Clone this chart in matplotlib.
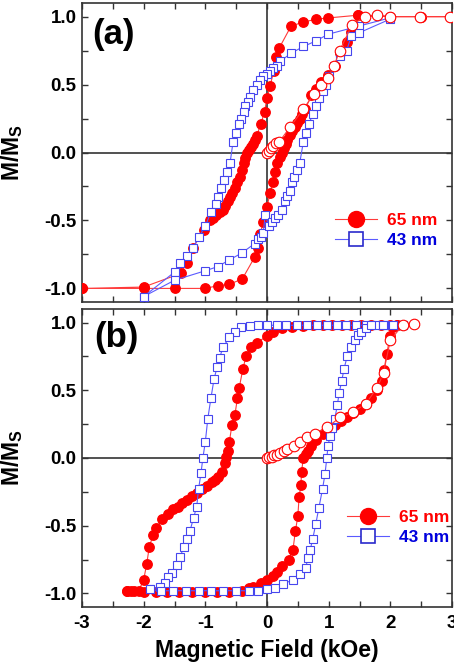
import matplotlib
matplotlib.use('Agg')
import matplotlib.pyplot as plt
from matplotlib.lines import Line2D
from matplotlib.ticker import MultipleLocator

plt.rcParams['font.family'] = ['Liberation Sans', 'DejaVu Sans']
plt.rcParams['font.weight'] = 'bold'
plt.rcParams['axes.unicode_minus'] = False
plt.rcParams['mathtext.fontset'] = 'custom'
plt.rcParams['mathtext.rm'] = 'Liberation Sans:bold'
plt.rcParams['mathtext.bf'] = 'Liberation Sans:bold'

# ---------------- panel (a) ----------------
# 65 nm loop: descending branch then ascending branch
a65_down_x = [3.0, 2.5, 2.0, 1.47, 0.99, 0.79, 0.59, 0.39, 0.20, 0.15, 0.11, 0.05, 0.0, -0.04, -0.10,
              -0.17, -0.20, -0.23, -0.26, -0.29, -0.32, -0.35, -0.38, -0.41, -0.44, -0.48, -0.52, -0.56,
              -0.60, -0.64, -0.68, -0.72, -0.77, -0.82, -0.87, -0.92, -1.02, -1.2, -1.3, -1.4, -2.0, -3.0]
a65_down_y = [1.0, 1.0, 1.0, 1.01, 0.99, 0.98, 0.96, 0.93, 0.77, 0.70, 0.60, 0.49, 0.40, 0.30, 0.21,
              0.12, 0.09, 0.06, 0.04, 0.02, 0.0, -0.04, -0.08, -0.13, -0.18, -0.22, -0.26, -0.30,
              -0.33, -0.36, -0.39, -0.42, -0.44, -0.46, -0.48, -0.50, -0.57, -0.70, -0.81, -0.89, -0.99, -1.0]
a65_up_x = [-3.0, -2.0, -1.5, -1.0, -0.8, -0.61, -0.4, -0.2, -0.14, -0.11, -0.06, 0.0, 0.05, 0.09, 0.13,
            0.17, 0.21, 0.24, 0.27, 0.30, 0.33, 0.37, 0.41, 0.45, 0.49, 0.53, 0.57, 0.62, 0.72, 0.80,
            0.88, 0.99, 1.1, 1.18, 1.29, 1.37, 1.48, 2.0, 2.5, 3.0]
a65_up_y = [-1.0, -1.0, -1.0, -1.0, -0.98, -0.97, -0.93, -0.77, -0.70, -0.60, -0.51, -0.40, -0.30, -0.22, -0.14,
            -0.08, -0.03, 0.0, 0.03, 0.06, 0.09, 0.13, 0.16, 0.19, 0.22, 0.25, 0.28, 0.32, 0.42, 0.47,
            0.52, 0.57, 0.64, 0.73, 0.81, 0.89, 1.01, 1.0, 1.0, 1.0]
# 65 nm initial magnetization curve (open circles)
a65_init_x = [0.0, 0.03, 0.06, 0.10, 0.15, 0.20, 0.38, 0.59, 0.76, 0.88, 0.99, 1.09, 1.18, 1.38, 1.59, 1.79, 1.99, 2.48, 2.96]
a65_init_y = [0.0, 0.01, 0.03, 0.05, 0.07, 0.08, 0.19, 0.32, 0.43, 0.50, 0.55, 0.64, 0.75, 0.94, 1.0, 1.01, 1.0, 1.0, 1.0]
# 43 nm loop
a43_down_x = [1.99, 1.49, 0.99, 0.79, 0.59, 0.39, 0.21, 0.16, 0.10, 0.05, 0.0, -0.06, -0.11, -0.17, -0.22,
              -0.28, -0.31, -0.36, -0.38, -0.42, -0.46, -0.50, -0.55, -0.60, -0.65, -0.70, -0.74, -0.79,
              -0.83, -0.91, -1.0, -1.1, -1.2, -1.3, -1.41, -1.5, -2.0]
a43_down_y = [0.99, 0.93, 0.87, 0.82, 0.78, 0.73, 0.67, 0.64, 0.62, 0.60, 0.58, 0.56, 0.53, 0.50, 0.46,
              0.41, 0.37, 0.34, 0.30, 0.25, 0.21, 0.14, 0.08, -0.08, -0.14, -0.20, -0.26, -0.33,
              -0.38, -0.44, -0.54, -0.62, -0.70, -0.76, -0.81, -0.88, -1.06]
a43_up_x = [-2.0, -1.5, -1.0, -0.8, -0.61, -0.41, -0.2, -0.15, -0.10, -0.06, -0.03, 0.03, 0.08, 0.13, 0.18,
            0.24, 0.29, 0.33, 0.37, 0.40, 0.44, 0.48, 0.53, 0.59, 0.63, 0.68, 0.74, 0.79, 0.85, 0.90,
            0.95, 1.01, 1.09, 1.19, 1.29, 1.37, 1.49, 1.99]
a43_up_y = [-1.06, -0.94, -0.87, -0.84, -0.79, -0.74, -0.67, -0.64, -0.62, -0.59, -0.46, -0.54, -0.51, -0.48, -0.46,
            -0.42, -0.36, -0.32, -0.28, -0.22, -0.18, -0.13, -0.08, 0.08, 0.14, 0.21, 0.28, 0.34, 0.40, 0.45,
            0.50, 0.56, 0.64, 0.71, 0.75, 0.86, 0.88, 0.98]

# ---------------- panel (b) ----------------
b65_down_x = [2.1, 2.0, 1.85, 1.69, 1.53, 1.37, 1.21, 1.05, 0.90, 0.74, 0.58, 0.40, 0.24, 0.10, 0.0, -0.17,
              -0.26, -0.34, -0.39, -0.45, -0.48, -0.52, -0.57, -0.61, -0.64, -0.66, -0.68, -0.73, -0.79,
              -0.84, -0.89, -0.98, -1.06, -1.14, -1.22, -1.30, -1.38, -1.45, -1.53, -1.60, -1.70, -1.80,
              -1.85, -1.91, -1.95, -2.0, -2.08, -2.16, -2.27]
b65_down_y = [0.98, 0.98, 0.98, 0.98, 0.98, 0.98, 0.98, 0.98, 0.98, 0.98, 0.975, 0.97, 0.96, 0.93, 0.90, 0.85,
              0.82, 0.75, 0.66, 0.52, 0.44, 0.32, 0.24, 0.12, 0.05, 0.01, -0.04, -0.10, -0.14,
              -0.16, -0.18, -0.21, -0.23, -0.26, -0.28, -0.31, -0.33, -0.36, -0.38, -0.41, -0.45, -0.52,
              -0.57, -0.66, -0.78, -0.90, -0.98, -0.98, -0.98]
b65_up_x = [-2.27, -2.2, -2.0, -1.8, -1.62, -1.42, -1.22, -1.0, -0.81, -0.61, -0.41, -0.3, -0.22, -0.1, 0.0,
            0.09, 0.17, 0.25, 0.35, 0.42, 0.46, 0.50, 0.52, 0.55, 0.56, 0.59, 0.63, 0.67, 0.72, 0.80,
            0.90, 1.0, 1.1, 1.2, 1.3, 1.4, 1.5, 1.6, 1.69, 1.78, 1.86, 1.90, 1.94, 2.0, 2.05, 2.1]
b65_up_y = [-0.98, -0.98, -0.99, -0.99, -0.99, -0.99, -0.99, -0.99, -0.99, -0.99, -0.98, -0.96, -0.95, -0.92, -0.90,
            -0.87, -0.84, -0.80, -0.75, -0.68, -0.54, -0.43, -0.29, -0.20, -0.10, 0.0, 0.03, 0.05, 0.09, 0.13,
            0.18, 0.21, 0.24, 0.27, 0.30, 0.33, 0.36, 0.40, 0.44, 0.50, 0.57, 0.65, 0.77, 0.90, 0.97, 0.98]
b65_init_x = [0.0, 0.03, 0.08, 0.11, 0.16, 0.21, 0.27, 0.33, 0.43, 0.53, 0.65, 0.78, 0.98, 1.19, 1.40, 1.60, 1.79, 1.89, 2.0, 2.2, 2.38]
b65_init_y = [0.0, 0.005, 0.01, 0.02, 0.025, 0.035, 0.05, 0.07, 0.09, 0.12, 0.155, 0.18, 0.23, 0.30, 0.34, 0.40, 0.52, 0.63, 0.87, 0.98, 0.99]
b43_down_x = [2.2, 2.04, 1.89, 1.75, 1.6, 1.44, 1.28, 1.13, 0.97, 0.81, 0.65, 0.48, 0.31, 0.16, 0.0, -0.14,
              -0.28, -0.42, -0.52, -0.61, -0.71, -0.77, -0.81, -0.86, -0.91, -0.96, -1.0, -1.04, -1.07,
              -1.11, -1.14, -1.19, -1.25, -1.30, -1.35, -1.41, -1.46, -1.54, -1.60, -1.65, -1.73, -1.90]
b43_down_y = [0.98, 0.98, 0.98, 0.98, 0.98, 0.98, 0.98, 0.98, 0.98, 0.98, 0.98, 0.98, 0.98, 0.98, 0.98, 0.98,
              0.975, 0.965, 0.93, 0.89, 0.82, 0.74, 0.67, 0.58, 0.44, 0.29, 0.12, 0.0, -0.11,
              -0.23, -0.36, -0.44, -0.54, -0.60, -0.66, -0.73, -0.79, -0.85, -0.88, -0.92, -0.95, -0.97]
b43_up_x = [-1.90, -1.72, -1.52, -1.31, -1.11, -0.91, -0.71, -0.5, -0.3, -0.14, 0.0, 0.13, 0.26, 0.42, 0.53,
            0.63, 0.66, 0.70, 0.74, 0.79, 0.84, 0.90, 0.94, 0.97, 0.99, 1.02, 1.05, 1.10, 1.14, 1.17, 1.21,
            1.25, 1.30, 1.37, 1.42, 1.48, 1.53, 1.60, 1.69, 1.88, 2.2]
b43_up_y = [-0.97, -0.98, -0.98, -0.98, -0.98, -0.98, -0.98, -0.98, -0.98, -0.98, -0.97, -0.96, -0.93, -0.90, -0.86,
            -0.81, -0.74, -0.68, -0.60, -0.49, -0.37, -0.23, -0.12, 0.0, 0.09, 0.16, 0.22, 0.29, 0.39, 0.48, 0.565,
            0.66, 0.75, 0.82, 0.87, 0.91, 0.93, 0.96, 0.98, 0.98, 0.98]

RED = '#ff0000'
RED_LINE = '#ff3a3a'
BLUE = '#4646ee'
BLUE_LINE = '#5a5aff'


def draw_panel(ax, loop65, init65, loop43, label, legend_xy, bottom):
    # zero lines
    ax.axhline(0, color='#333333', lw=1.2, zorder=1)
    ax.axvline(0, color='#333333', lw=1.2, zorder=1)

    ax.plot(loop65[0], loop65[1], color=RED_LINE, lw=0.8, marker='o', ms=6.8,
            mfc=RED, mec=RED, zorder=3)
    ax.plot(loop43[0], loop43[1], color=BLUE_LINE, lw=0.8, marker='s', ms=5.8,
            mfc='white', mec=BLUE, mew=0.8, zorder=4)
    ax.plot(init65[0], init65[1], color=RED_LINE, lw=0.8, marker='o', ms=7.6,
            mfc='white', mec=RED, mew=0.8, zorder=5)

    ax.set_xlim(-3, 3)
    ax.set_ylim(-1.1, 1.1)
    ax.xaxis.set_major_locator(MultipleLocator(1))
    ax.xaxis.set_minor_locator(MultipleLocator(0.5))
    ax.yaxis.set_major_locator(MultipleLocator(0.5))
    ax.yaxis.set_minor_locator(MultipleLocator(0.25))
    ax.tick_params(which='both', direction='in', top=True, right=True, width=1.0,
                   color='#333333', labelsize=13.5, length=4.5)
    ax.tick_params(axis='y', pad=4)
    ax.tick_params(axis='x', pad=6)
    for sp in ax.spines.values():
        sp.set_linewidth(1.2)
        sp.set_color('#333333')

    ax.set_ylabel(r'M/M$_\mathbf{S}$', fontsize=16.5, fontweight='bold')
    ax.yaxis.set_label_coords(-0.154, 0.5)
    if bottom:
        ax.set_xlabel('Magnetic Field (kOe)', fontsize=16.5, fontweight='bold')
        ax.xaxis.set_label_coords(0.5, -0.108)
    else:
        ax.tick_params(axis='x', which='both', labelbottom=False)

    ax.text(label[1], label[2], label[0], transform=ax.transAxes, fontsize=25,
            fontweight='bold', ha='left', va='center')

    h1 = Line2D([], [], color=RED_LINE, lw=0.8, marker='o', ms=11.5, mfc=RED, mec=RED)
    h2 = Line2D([], [], color=BLUE_LINE, lw=0.8, marker='s', ms=10.5, mfc='white',
                mec='#2a2acc', mew=1.2)
    ax.legend([h1, h2], ['65 nm', '43 nm'], loc='center left', bbox_to_anchor=legend_xy,
              frameon=False, borderpad=0, borderaxespad=0, handlelength=2.4,
              handletextpad=0.6, labelspacing=0.3,
              prop={'weight': 'bold', 'size': 12.5}, labelcolor=[RED, '#0000dd'])


fig = plt.figure(figsize=(4.54, 6.66), dpi=100)
ax_a = fig.add_axes([82 / 454, 1 - 302 / 666, 370 / 454, 299 / 666])
ax_b = fig.add_axes([82 / 454, 1 - 607 / 666, 370 / 454, 298 / 666])

draw_panel(ax_a,
           (a65_down_x + a65_up_x, a65_down_y + a65_up_y),
           (a65_init_x, a65_init_y),
           (a43_down_x + a43_up_x, a43_down_y + a43_up_y),
           ('(a)', 0.027, 0.896), (0.684, 0.239), False)
draw_panel(ax_b,
           (b65_down_x + b65_up_x, b65_down_y + b65_up_y),
           (b65_init_x, b65_init_y),
           (b43_down_x + b43_up_x, b43_down_y + b43_up_y),
           ('(b)', 0.033, 0.903), (0.716, 0.267), True)

fig.savefig('out.png', dpi=100)
